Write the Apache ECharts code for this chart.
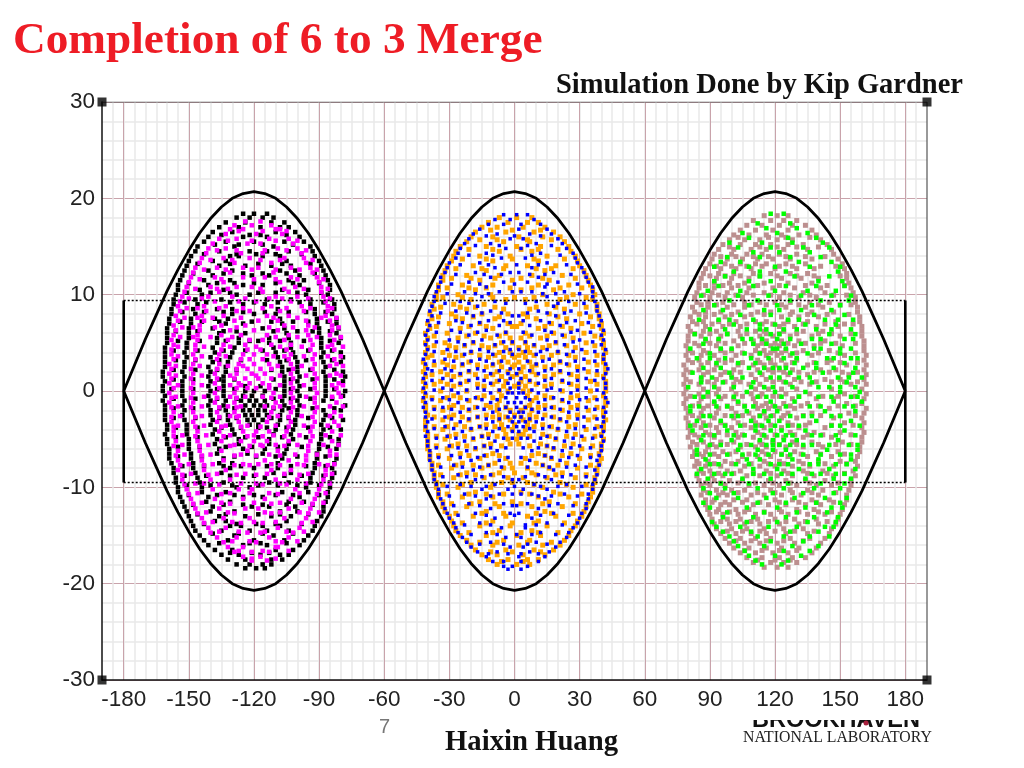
<!DOCTYPE html>
<html><head><meta charset="utf-8">
<style>html,body{margin:0;padding:0;background:#fff}#c{width:1024px;height:768px}</style>
<script src="https://cdn.jsdelivr.net/npm/echarts@6/dist/echarts.min.js"></script>
</head><body><div id="c"></div>
<script>
const xTicks=[-180,-150,-120,-90,-60,-30,0,30,60,90,120,150,180];
const yTicks=[-30,-20,-10,0,10,20,30];
const sepX=[-180,-175,-170,-165,-160,-155,-150,-145,-140,-135,-130,-125,-120,-115,-110,-105,-100,-95,-90,-85,-80,-75,-70,-65,-60,-55,-50,-45,-40,-35,-30,-25,-20,-15,-10,-5,0,5,10,15,20,25,30,35,40,45,50,55,60,65,70,75,80,85,90,95,100,105,110,115,120,125,130,135,140,145,150,155,160,165,170,175,180];
const sepUpper=[0,2.7,5.4,7.9,10.4,12.6,14.6,16.4,17.9,19.1,20,20.5,20.7,20.5,20,19.1,17.9,16.4,14.6,12.6,10.4,7.9,5.4,2.7,0,2.7,5.4,7.9,10.4,12.6,14.6,16.4,17.9,19.1,20,20.5,20.7,20.5,20,19.1,17.9,16.4,14.6,12.6,10.4,7.9,5.4,2.7,0,2.7,5.4,7.9,10.4,12.6,14.6,16.4,17.9,19.1,20,20.5,20.7,20.5,20,19.1,17.9,16.4,14.6,12.6,10.4,7.9,5.4,2.7,0];
const sepLower=[0,-2.7,-5.4,-7.9,-10.4,-12.6,-14.6,-16.4,-17.9,-19.1,-20,-20.5,-20.7,-20.5,-20,-19.1,-17.9,-16.4,-14.6,-12.6,-10.4,-7.9,-5.4,-2.7,0,-2.7,-5.4,-7.9,-10.4,-12.6,-14.6,-16.4,-17.9,-19.1,-20,-20.5,-20.7,-20.5,-20,-19.1,-17.9,-16.4,-14.6,-12.6,-10.4,-7.9,-5.4,-2.7,0,-2.7,-5.4,-7.9,-10.4,-12.6,-14.6,-16.4,-17.9,-19.1,-20,-20.5,-20.7,-20.5,-20,-19.1,-17.9,-16.4,-14.6,-12.6,-10.4,-7.9,-5.4,-2.7,0];
const bucketTop=[[-180,9.4],[180,9.4]];
const bucketBottom=[[-180,-9.5],[180,-9.5]];
const bucketLeft=[[-180,9.4],[-180,-9.5]];
const bucketRight=[[180,9.4],[180,-9.5]];
const corners=[[-190,30],[190,30],[-190,-30],[190,-30]];
// each row: y, then the x values read along that row
const blackRows=[
[18.4,-125,-120,-114],[18,-128,-122,-116,-111],[17.5,-133,-124,-112,-106],[17,-136,-127,-117,-108,-104],[16.5,-139,-130,-110,-101],[16,-141,-125,-114,-99],[15.5,-143,-133,-120,-106,-97],[15,-146,-129,-111,-94],[14.5,-147,-136,-122,-114,-104,-93],[14,-149,-131,-127,-116,-108,-92],[13.5,-150,-139,-133,-105,-90],[13,-151,-136,-124,-112,-103,-89],[12.5,-152,-141,-130,-108,-101,-88],[12,-153,-139,-121,-113,-99,-87],[11.5,-154,-143,-131,-104,-97,-86],[11,-155,-141,-125,-116,-99,-85],[10.5,-155,-145,-134,-107,-95,-85],[10,-156,-144,-128,-122,-96,-86],[9.5,-157,-147,-135,-114,-103,-94,-84],
[9,-157,-146,-125,-115,-94,-83],[8.5,-158,-148,-137,-130,-109,-92,-83],[8,-158,-147,-130,-120,-110,-92,-84],[7.5,-159,-149,-138,-132,-108,-91,-82],[7,-159,-149,-133,-125,-107,-91,-82],[6.5,-160,-150,-139,-116,-106,-90,-81],[6,-160,-150,-136,-124,-105,-90,-82],[5.5,-160,-150,-137,-127,-113,-104,-89,-80],[5,-160,-151,-137,-127,-113,-103,-89,-81],[4.5,-161,-151,-139,-129,-111,-103,-89],[4,-161,-152,-138,-130,-110,-102,-88,-80],[3.5,-161,-151,-140,-131,-109,-101,-89,-79],[3,-161,-152,-139,-132,-108,-100,-88,-80],[2.5,-161,-152,-141,-133,-107,-100,-87],[2,-162,-153,-140,-133,-107,-100,-88,-79],[1.5,-162,-152,-141,-134,-106,-99,-87,-78],[1,-161,-153,-140,-134,-106,-100,-87,-79],[.5,-162,-153,-141,-134,-124,-117,-106,-99,-87],[0,-162,-153,-140,-134,-124,-120,-115,-106,-100,-87,-78],
[-.5,-161,-153,-141,-134,-125,-121,-116,-106,-99,-87,-79],[-1,-162,-152,-140,-133,-126,-122,-119,-115,-107,-100,-88],[-1.5,-161,-153,-141,-134,-124,-120,-117,-114,-106,-99,-78],[-2,-161,-152,-140,-133,-125,-122,-118,-115,-107,-100,-88,-80],[-2.5,-161,-153,-140,-132,-124,-121,-118,-114,-108,-100,-87],[-3,-161,-152,-139,-132,-123,-120,-116,-108,-101,-88,-79],[-3.5,-160,-151,-140,-131,-122,-118,-109,-101,-89],[-4,-160,-151,-138,-130,-110,-102,-88,-80],[-4.5,-161,-151,-139,-129,-111,-103,-89],[-5,-160,-150,-137,-127,-113,-102,-89,-81],[-5.5,-160,-150,-138,-127,-113,-104,-90,-81],[-6,-159,-150,-136,-125,-115,-105,-90,-82],[-6.5,-159,-149,-137,-123,-116,-106,-91],[-7,-159,-149,-134,-107,-91,-82],[-7.5,-158,-148,-136,-130,-109,-92,-83],[-8,-157,-148,-131,-120,-109,-92,-84],[-8.5,-157,-147,-135,-111,-103,-93,-83],[-9,-156,-146,-125,-115,-94,-84],[-9.5,-156,-145,-134,-113,-104,-94,-85],
[-10,-155,-144,-128,-122,-96,-85],[-10.5,-155,-144,-133,-107,-95,-86],[-11,-154,-141,-125,-116,-99,-86],[-11.5,-153,-142,-131,-104,-97,-87],[-12,-152,-139,-121,-113,-101,-88],[-12.5,-151,-140,-129,-108,-100,-88],[-13,-150,-136,-124,-112,-103,-89],[-13.5,-149,-138,-133,-105,-91],[-14,-148,-131,-126,-116,-108,-92],[-14.5,-147,-135,-122,-114,-104,-93],[-15,-145,-129,-111,-95],[-15.5,-143,-132,-120,-106,-97],[-16,-141,-125,-114,-99],[-16.5,-138,-130,-110,-102],[-17,-135,-127,-117,-108,-104],[-17.5,-132,-124,-112,-107],[-18,-128,-122,-116,-112],[-18.4,-124,-119,-115]];
const blackFill=[
[16.2,-135,-122,-117,-105],[15.2,-138,-127,-116,-102],[14.2,-143,-128,-119,-110,-98],[13.2,-146,-131,-118,-107,-94],[12.2,-148,-134,-125,-116,-105,-92],[11.2,-150,-137,-129,-120,-110,-102,-90],[10.2,-151,-140,-131,-118,-110,-100,-89],[9.2,-152,-142,-131,-120,-109,-99,-88],[8.2,-153,-143,-134,-125,-115,-104,-96,-87],[7.2,-154,-144,-136,-121,-112,-102,-95,-86],[6.2,-156,-146,-134,-128,-111,-100,-93,-85],[5.2,-155,-145,-133,-122,-118,-108,-97,-85],[4.2,-157,-146,-134,-124,-116,-106,-95,-84],[3.2,-156,-147,-136,-126,-114,-105,-96,-84],[2.2,-157,-147,-137,-128,-112,-104,-94,-83],[1.2,-157,-148,-136,-129,-111,-103,-93,-83],[.2,-158,-148,-137,-129,-110,-103,-94,-83],
[-.8,-157,-147,-137,-128,-111,-103,-94,-84],[-1.8,-157,-148,-136,-129,-111,-104,-93,-83],[-2.8,-157,-147,-136,-128,-112,-104,-95,-84],[-3.8,-156,-146,-135,-126,-118,-114,-105,-95,-85],[-4.8,-156,-146,-133,-124,-118,-107,-96,-85],[-5.8,-155,-145,-133,-121,-109,-98,-86],[-6.8,-155,-144,-129,-119,-110,-100,-87],[-7.8,-153,-143,-134,-126,-114,-103,-96,-87],[-8.8,-152,-142,-131,-120,-106,-98,-88],[-9.8,-151,-140,-130,-118,-109,-100,-90],[-10.8,-150,-137,-129,-120,-110,-102,-90],[-11.8,-148,-134,-125,-116,-105,-93],[-12.8,-146,-133,-118,-108,-95],[-13.8,-143,-128,-119,-110,-98],[-14.8,-139,-127,-116,-102],[-15.8,-136,-122,-117,-105],[-16.8,-131,-121,-113]];
const magentaRows=[
[17.6,-124,-117],[17.2,-129,-121,-112],[16.8,-131,-125,-110,-108],[16.3,-133,-119,-107],[15.8,-136,-128,-113,-104],[15.3,-139,-123,-117,-102],[14.8,-141,-133,-109,-100],[14.3,-142,-126,-116,-98],[13.8,-144,-134,-122,-106,-97],[13.3,-145,-129,-112,-96],[12.8,-147,-137,-125,-118,-103,-94],[12.3,-148,-131,-111,-93],[11.8,-149,-138,-125,-115,-103,-91],[11.3,-150,-134,-108,-90],[10.8,-151,-140,-128,-121,-101,-89],[10.3,-152,-136,-116,-104,-89],[9.8,-153,-141,-130,-110,-100,-88],[9.3,-154,-138,-127,-119,-103,-87],[8.8,-155,-143,-133,-112,-98,-86],
[8.3,-154,-142,-128,-122,-108,-97,-86],[7.8,-156,-144,-134,-114,-104,-87],[7.3,-155,-143,-129,-118,-109,-96,-85],[6.8,-157,-145,-135,-124,-106,-95,-84],[6.3,-156,-145,-131,-120,-109,-96,-84],[5.8,-157,-146,-135,-126,-114,-104,-95,-85],[5.3,-158,-146,-132,-122,-116,-106,-94,-83],[4.8,-157,-147,-134,-124,-112,-103,-93,-84],[4.3,-158,-147,-135,-123,-117,-105,-94,-83],[3.8,-158,-148,-136,-125,-120,-114,-103,-92],[3.3,-157,-147,-137,-126,-122,-116,-104,-93,-83],[2.8,-159,-148,-136,-127,-120,-113,-103,-92,-82],[2.3,-158,-149,-137,-128,-123,-117,-112,-102,-93],[1.8,-159,-148,-138,-128,-121,-115,-103,-92,-82],[1.3,-158,-149,-137,-129,-124,-118,-112,-102,-91],[.8,-159,-148,-138,-127,-122,-116,-103,-92,-81],[.3,-157,-149,-136,-128,-123,-119,-113,-102,-92,-82],
[-.2,-159,-148,-138,-129,-111,-103,-91,-81],[-.7,-158,-149,-137,-128,-112,-102,-92],[-1.2,-159,-148,-138,-129,-110,-103,-92,-82],[-1.7,-158,-149,-136,-128,-111,-102,-91],[-2.2,-157,-148,-137,-129,-112,-103,-92,-83],[-2.7,-158,-147,-136,-128,-113,-104,-93],[-3.2,-158,-148,-137,-127,-114,-103,-92,-83],[-3.7,-157,-147,-135,-126,-117,-104,-93],[-4.2,-157,-146,-136,-125,-119,-113,-105,-94,-84],[-4.7,-157,-147,-134,-123,-116,-106,-93],[-5.2,-156,-146,-135,-126,-120,-114,-104,-94,-84],[-5.7,-157,-145,-131,-122,-116,-106,-95],[-6.2,-155,-145,-135,-123,-109,-95,-85],[-6.7,-156,-144,-129,-119,-108,-96,-85],[-7.2,-155,-144,-134,-115,-104,-96],[-7.7,-154,-143,-129,-122,-108,-97,-86],[-8.2,-155,-143,-133,-112,-103,-87],[-8.7,-153,-141,-128,-119,-99,-87],
[-9.2,-153,-140,-131,-110,-100,-88],[-9.7,-152,-136,-116,-105,-89],[-10.2,-151,-139,-127,-121,-101,-90],[-10.7,-150,-135,-109,-91],[-11.2,-149,-138,-125,-115,-103,-92],[-11.7,-148,-131,-112,-93],[-12.2,-147,-136,-124,-118,-104,-94],[-12.7,-146,-129,-112,-95],[-13.2,-144,-134,-122,-106,-96],[-13.7,-143,-126,-116,-98],[-14.2,-141,-133,-109,-99],[-14.7,-140,-123,-117,-102],[-15.2,-137,-128,-113,-104],[-15.7,-134,-119,-107],[-16.2,-132,-125,-110,-109],[-16.7,-129,-121,-113],[-17.2,-125,-117],[-17.6,-121,-114]];
const magentaFill=[
[16.6,-127,-116,-105],[15.6,-132,-121,-110,-100],[14.6,-137,-128,-115,-105,-96],[13.6,-140,-130,-117,-108,-93],[12.6,-143,-133,-121,-110,-99,-91],[11.6,-145,-135,-120,-110,-100,-88],[10.6,-147,-137,-132,-117,-106,-97,-86],[9.6,-150,-144,-124,-113,-107,-95,-85],[8.6,-151,-146,-136,-125,-116,-105,-94,-84],[7.6,-152,-146,-139,-126,-111,-100,-89,-82],[6.6,-153,-148,-138,-128,-113,-102,-92,-81],[5.6,-154,-148,-140,-130,-110,-100,-91,-80],[4.6,-155,-143,-131,-119,-108,-98,-86,-79],[3.6,-155,-144,-133,-111,-106,-97,-86,-80],[2.6,-156,-145,-132,-125,-109,-98,-85,-79],[1.6,-156,-144,-131,-119,-108,-96,-85,-80],[.6,-155,-144,-131,-126,-113,-108,-97,-84,-79],
[-.6,-156,-143,-131,-124,-116,-108,-96,-84,-80],[-1.6,-155,-144,-132,-126,-115,-108,-97,-85,-79],[-2.6,-154,-144,-131,-127,-109,-98,-85,-80],[-3.6,-155,-143,-133,-123,-110,-97,-86,-81],[-4.6,-153,-142,-131,-120,-111,-99,-87,-80],[-5.6,-153,-141,-129,-117,-110,-100,-88,-81],[-6.6,-152,-140,-126,-113,-101,-91,-82],[-7.6,-150,-139,-125,-118,-112,-100,-90,-83],[-8.6,-149,-137,-124,-114,-106,-95,-84],[-9.6,-147,-143,-126,-119,-108,-96,-85],[-10.6,-146,-131,-122,-113,-99,-87],[-11.6,-144,-135,-120,-108,-98,-88],[-12.6,-142,-132,-115,-108,-99,-90],[-13.6,-139,-130,-120,-110,-93],[-14.6,-136,-127,-115,-105,-97],[-15.6,-130,-122,-110,-100],[-16.6,-127,-116,-104],[-17.4,-121,-110]];
const orangeRows=[
[18,-7,1,8],[17.5,-12,-3,6,11],[17,-15,-8,4,14],[16.5,-18,-4,9,18],[16,-20,-10,2,13,21],[15.5,-22,-5,7,23],[15,-25,-13,1,12,25],[14.5,-27,-7,8,26],[14,-28,-16,-2,15,28],[13.5,-29,-10,11,29],[13,-31,-19,-4,6,19,30],[12.5,-32,-13,14,32],[12,-33,-22,-7,8,22,33],[11.5,-33,-16,-1,16,34],[11,-35,-24,-10,11,25,35],[10.5,-35,-18,3,18,36],[10,-36,-26,-11,13,27,37],[9.5,-36,-20,-4,5,21,36],[9,-38,-28,-14,15,28,38],[8.5,-37,-22,-5,7,23,38],
[8,-39,-29,-15,-3,4,16,30,39],[7.5,-38,-24,-9,10,24,39],[7,-40,-30,-16,-3,3,17,31,40],[6.5,-39,-25,-10,11,26,40],[6,-41,-31,-18,-4,5,18,32,41],[5.5,-40,-26,-11,-2,3,12,27,40],[5,-41,-32,-19,-6,-1,5,19,33,41],[4.5,-40,-27,-12,-4,2,6,13,28,41],[4,-41,-33,-20,-7,-2,4,7,20,33,42],[3.5,-40,-27,-12,-5,0,5,13,28,41],[3,-42,-33,-21,-7,-3,2,7,21,34,41],[2.5,-41,-28,-13,-6,-1,4,8,14,29,42],[2,-42,-34,-21,-8,-3,3,8,21,34,42],[1.5,-41,-28,-13,-6,-1,5,14,29,41],[1,-42,-34,-22,-8,-4,3,7,22,35,42],[.5,-41,-28,-14,-5,0,5,14,29,42],[0,-42,-34,-22,-7,-3,4,7,22,35,42],
[-.5,-41,-28,-14,-6,6,14,29,41],[-1,-42,-34,-21,-7,8,22,34,42],[-1.5,-41,-28,-13,-8,7,14,29,42],[-2,-41,-33,-21,-8,-2,3,8,22,34,41],[-2.5,-40,-28,-13,-7,0,7,14,29,41],[-3,-41,-33,-21,-7,-2,4,7,21,34,42],[-3.5,-41,-27,-13,-6,0,6,13,28,41],[-4,-41,-33,-20,-5,-1,5,20,33,41],[-4.5,-40,-27,-12,-4,2,4,13,28,40],[-5,-40,-32,-19,-3,1,19,32,41],[-5.5,-40,-26,-11,-2,2,12,27,40],[-6,-40,-31,-18,18,31,40],[-6.5,-39,-25,-10,11,26,39],[-7,-39,-30,-16,-4,5,17,30,40],[-7.5,-38,-24,-9,-2,3,10,24,39],[-8,-38,-29,-15,-5,-1,6,16,29,38],[-8.5,-37,-22,-7,0,8,22,38],[-9,-37,-28,-14,-3,4,15,28,37],[-9.5,-36,-20,-6,-1,6,21,37],[-10,-36,-26,-11,13,27,36],
[-10.5,-35,-18,3,18,36],[-11,-35,-24,-10,11,25,35],[-11.5,-33,-16,-1,16,34],[-12,-33,-22,-7,8,22,33],[-12.5,-32,-13,14,32],[-13,-30,-19,-4,6,19,31],[-13.5,-29,-10,11,29],[-14,-28,-16,-2,15,28],[-14.5,-27,-7,8,26],[-15,-25,-13,1,12,25],[-15.5,-22,-5,7,23],[-16,-20,-10,2,13,21],[-16.5,-18,-4,9,18],[-17,-15,-8,4,14],[-17.5,-12,-3,6,11],[-18,-8,1,7]];
const orangeFill=[
[16.7,-11,-1,12],[15.7,-16,-8,6,17],[14.7,-21,-10,3,11,20],[13.7,-24,-13,-1,9,23],[12.7,-27,-15,-5,10,17,27],[11.7,-29,-20,-9,3,13,28],[10.7,-31,-21,-13,-2,8,21,31],[9.7,-33,-24,-10,0,9,24,33],[8.7,-34,-25,-18,-9,10,19,33],[7.7,-35,-27,-19,-7,6,20,35],[6.7,-36,-21,-13,-1,1,14,22,36],[5.7,-37,-22,-14,-7,7,15,23,37],[4.7,-37,-30,-23,-15,-9,9,16,24,37],[3.7,-38,-30,-24,-16,-9,-1,2,9,17,25,38],[2.7,-37,-31,-24,-17,-10,0,10,18,25,38],[1.7,-38,-31,-25,-18,-10,1,10,18,26,38],[.7,-37,-31,-25,-17,-10,2,10,17,26,38],
[-.7,-38,-31,-25,-17,-10,10,17,26,37],[-1.7,-37,-30,-24,-18,-11,-4,5,11,18,26,38],[-2.7,-37,-30,-24,-17,-10,-4,3,10,18,25,37],[-3.7,-37,-31,-23,-16,-9,9,17,25,38],[-4.7,-36,-30,-23,-15,-8,7,16,24,37],[-5.7,-36,-29,-22,-14,-6,7,15,23,36],[-6.7,-35,-21,-13,-7,8,14,22,35],[-7.7,-35,-27,-19,-12,13,20,35],[-8.7,-34,-25,-18,-10,10,19,33],[-9.7,-33,-24,-10,9,24,33],[-10.7,-31,-21,-13,-5,7,21,31],[-11.7,-29,-20,-9,3,13,28],[-12.7,-27,-15,-5,10,17,27],[-13.7,-24,-13,-1,9,23],[-14.7,-21,-10,3,11,20],[-15.7,-16,-8,6,17],[-16.7,-11,-1,12],[-17.7,-6,4]];
const blueRows=[
[18.3,-5,1,6],[17.8,-9,-2,9],[17.3,-12,-5,3,12],[16.8,-16,2,15],[16.3,-19,-8,7,17],[15.8,-21,-2,4,20],[15.3,-23,-11,10,22],[14.8,-25,-4,3,24],[14.3,-26,-13,12,27],[13.8,-27,-6,5,28],[13.3,-30,-16,15,29],[12.8,-31,-9,8,31],[12.3,-32,-18,-2,2,18,32],[11.8,-34,-11,11,33],[11.3,-34,-21,-5,6,20,34],[10.8,-35,-13,14,36],[10.3,-36,-23,-7,-1,3,8,23,36],[9.8,-37,-15,15,36],[9.3,-37,-25,-9,10,25,37],[8.8,-38,-17,18,38],
[8.3,-39,-27,-11,11,26,38],[7.8,-38,-19,-1,2,19,39],[7.3,-40,-27,-12,-5,4,12,28,40],[6.8,-39,-20,-7,7,21,39],[6.3,-40,-29,-13,14,29,41],[5.8,-41,-21,-8,8,22,40],[5.3,-40,-30,-15,15,30,41],[4.8,-41,-23,-9,9,23,40],[4.3,-40,-31,-16,-2,2,15,31,42],[3.8,-41,-23,-10,-1,10,24,41],[3.3,-42,-32,-16,16,32,41],[2.8,-41,-24,-10,10,24,42],[2.3,-40,-32,-17,-2,2,17,32,43],[1.8,-41,-25,-11,-3,1,11,25,42],[1.3,-42,-33,-17,-2,3,17,33,41],[.8,-41,-25,-11,-3,2,11,25,42],[.3,-42,-33,-17,-2,2,17,33,42],
[-.2,-41,-26,-11,-3,-1,2,4,11,26,41],[-.7,-42,-33,-18,-4,1,5,18,33,42],[-1.2,-41,-26,-11,-3,0,3,11,25,43],[-1.7,-42,-33,-17,-4,1,5,17,33,41],[-2.2,-41,-25,-10,-2,2,4,11,25,42],[-2.7,-41,-32,-17,-3,0,3,17,32,41],[-3.2,-40,-25,-10,-1,2,5,10,24,41],[-3.7,-41,-32,-16,-3,1,4,16,32,40],[-4.2,-40,-24,-10,-1,2,9,24,41],[-4.7,-41,-31,-15,15,31,40],[-5.2,-40,-23,-9,9,23,41],[-5.7,-40,-30,-14,15,30,40],[-6.2,-39,-22,-8,8,22,40],[-6.7,-39,-29,-14,14,29,39],[-7.2,-39,-20,-7,7,21,38],[-7.7,-38,-28,-12,13,28,39],[-8.2,-38,-19,18,37],[-8.7,-37,-26,-11,11,26,38],[-9.2,-37,-18,-1,2,17,37],[-9.7,-36,-25,-9,9,24,36],
[-10.2,-35,-15,-3,4,15,36],[-10.7,-35,-23,-7,-1,3,8,23,34],[-11.2,-34,-13,14,34],[-11.7,-33,-21,-5,6,20,33],[-12.2,-32,-11,11,33],[-12.7,-31,-18,-2,2,18,31],[-13.2,-30,-9,8,30],[-13.7,-28,-16,15,29],[-14.2,-27,-6,5,27],[-14.7,-26,-13,12,25],[-15.2,-24,-4,3,24],[-15.7,-22,-11,10,21],[-16.2,-20,-2,4,19],[-16.7,-17,-8,7,16],[-17.2,-13,2,14],[-17.7,-10,-5,3,11],[-18.2,-5,-1,6],[-18.5,-3,3]];
const blueFill=[
[16.1,-13,0,12],[15.1,-18,-7,6,17],[14.1,-21,-10,8,21],[13.1,-25,-12,1,11,24],[12.1,-27,-14,-6,7,14,26],[11.1,-29,-16,0,15,29],[10.1,-31,-18,-12,13,19,30],[9.1,-32,-21,-4,5,20,32],[8.1,-34,-22,-15,-6,6,15,23,33],[7.1,-35,-24,-16,-2,16,24,34],[6.1,-36,-25,-17,-4,4,17,26,35],[5.1,-36,-26,-19,-5,-1,5,19,27,36],[4.1,-37,-27,-20,-12,-5,5,12,20,27,37],[3.1,-37,-28,-20,-13,-6,6,13,21,28,37],[2.1,-38,-29,-21,-14,-7,7,14,21,29,38],[1.1,-38,-29,-21,-14,-7,7,14,22,29,37],[.1,-37,-29,-22,-14,-7,8,15,21,29,38],
[-.9,-38,-30,-22,-15,-8,7,14,22,30,38],[-1.9,-37,-29,-21,-14,-7,8,14,21,29,37],[-2.9,-38,-29,-21,-13,-7,7,13,21,29,38],[-3.9,-37,-28,-20,-13,-7,7,13,20,28,37],[-4.9,-36,-27,-19,-12,-5,-1,3,6,12,19,27,36],[-5.9,-36,-26,-18,-11,-4,4,11,18,26,35],[-6.9,-35,-25,-17,-3,3,17,25,35],[-7.9,-34,-24,-16,-6,6,16,24,33],[-8.9,-33,-22,-15,-5,5,14,22,33],[-9.9,-31,-20,-13,0,12,20,31],[-10.9,-30,-18,-11,11,17,29],[-11.9,-28,-16,-1,1,16,27],[-12.9,-26,-13,0,12,25],[-13.9,-23,-11,5,10,22],[-14.9,-20,-8,1,8,19],[-15.9,-16,-5,6,15],[-16.9,-12,-3,3,11]];
const brownRows=[
[18.2,115,121,126],[17.7,110,118,124,130],[17.2,107,114,122,128,134],[16.7,104,111,119,126,137],[16.2,101,108,116,123,131,139],[15.7,99,106,113,121,128,141],[15.2,96,104,111,118,126,133,144],[14.7,94,101,109,116,124,135,146],[14.2,92,100,107,114,122,130,147],[13.7,91,98,105,112,119,127,137,149],[13.2,90,97,104,111,116,125,134,151],[12.7,88,95,102,109,120,130,138,152],[12.2,87,94,101,110,118,127,135,153],[11.7,86,93,100,108,123,132,140,153],[11.2,85,92,99,106,115,126,137,154],[10.7,85,92,100,108,119,129,141,155],[10.2,84,91,98,107,115,124,133,143,156],[9.7,83,90,97,105,122,131,139,157],[9.2,84,89,96,106,113,120,127,136,145,157],[8.7,82,89,98,106,125,134,142,158],[8.2,83,88,95,103,112,118,128,137,147,158],
[7.7,81,88,97,106,123,131,140,159],[7.2,82,87,94,102,111,116,126,135,148,159],[6.7,80,88,96,104,122,129,139,149,160],[6.2,81,87,93,103,111,115,124,133,142,160],[5.7,80,86,95,104,113,119,127,137,150,160],[5.2,80,88,94,101,110,116,123,131,143,161],[4.7,79,85,93,103,112,118,122,129,138,151,161],[4.2,80,87,95,100,111,115,120,125,133,145,161],[3.7,79,86,92,102,109,116,121,127,137,152,162],[3.2,80,85,94,100,112,118,123,130,146,161],[2.7,78,86,93,103,110,115,120,125,135,153,162],[2.2,79,85,92,101,112,117,122,128,141,148,161],[1.7,78,87,95,100,109,114,126,135,154,162],[1.2,79,86,93,102,111,116,122,129,143,150,161],[.7,78,85,92,101,108,113,127,136,155,162],[.2,79,87,94,100,111,117,123,130,146,160],
[-.3,78,85,93,102,109,114,125,136,152,162],[-.8,79,86,95,101,110,128,139,147,161],[-1.3,78,85,92,103,111,116,124,135,153,160],[-1.8,79,87,94,100,112,117,122,129,145,162],[-2.3,80,86,93,102,108,115,126,137,154,161],[-2.8,79,85,92,101,110,116,123,130,147,160],[-3.3,80,87,95,103,111,126,136,152,161],[-3.8,80,86,93,100,109,115,123,131,143,160],[-4.3,81,88,94,102,112,127,138,150,161],[-4.8,80,85,92,103,110,116,124,133,146,160],[-5.3,82,87,95,101,113,119,128,137,151,160],[-5.8,81,89,93,104,111,116,125,133,142,159],[-6.3,83,88,96,102,114,120,129,139,149,159],[-6.8,82,87,94,105,112,118,126,135,146,158],[-7.3,84,89,97,103,115,122,131,140,150,157],[-7.8,83,88,95,106,113,120,128,136,147,158],[-8.3,85,90,98,104,116,124,133,142,156],[-8.8,84,91,96,107,113,121,128,138,147,157],[-9.3,85,92,99,105,117,125,134,143,155],
[-9.8,86,90,97,108,115,122,130,139,146,155],[-10.3,87,93,100,106,118,127,135,142,154],[-10.8,86,94,98,109,115,123,132,140,153],[-11.3,88,92,101,107,120,128,137,145,153],[-11.8,88,95,99,110,117,125,134,141,152],[-12.3,89,94,102,108,122,130,138,151],[-12.8,90,96,103,111,118,126,135,143,150],[-13.3,91,98,104,112,120,129,139,149],[-13.8,92,99,106,113,122,131,140,148],[-14.3,93,100,107,115,124,133,146],[-14.8,95,102,109,116,125,135,145],[-15.3,97,104,111,118,127,136,143],[-15.8,99,106,113,121,129,141],[-16.3,101,108,116,123,131,139],[-16.8,104,111,119,126,137],[-17.3,107,114,122,128,134],[-17.8,110,118,124,130],[-18.3,115,121,126]];
const brownFill=[
[15.95,103,117,125,136],[14.95,99,113,121,130,140],[13.95,95,102,110,117,125,134,143],[12.95,93,100,107,114,122,128,141,148],[11.95,90,97,104,113,121,130,138,150],[10.95,88,96,103,112,122,134,144,152],[9.95,87,94,102,110,118,127,136,147,153],[8.95,86,93,101,109,116,123,131,140,150,155],[7.95,85,92,100,109,115,127,135,144,154],[6.95,84,91,99,107,114,119,124,133,143,152,156],[5.95,83,90,98,107,116,122,130,140,146,155],[4.95,83,90,97,106,114,120,126,134,141,148,157],[3.95,82,89,97,105,113,118,123,130,140,149,157],[2.95,82,89,97,105,113,118,128,138,144,150,158],[1.95,81,89,97,104,119,124,131,138,145,151,158],[.95,81,89,97,104,119,124,132,139,146,152,158],
[-.55,81,89,97,105,113,119,122,131,142,149,157],[-1.55,82,89,98,106,114,119,127,132,140,149,157],[-2.55,82,90,97,105,113,119,124,133,141,150,157],[-3.55,83,90,97,106,113,118,128,134,146,156],[-4.55,83,90,98,105,114,120,129,135,142,155],[-5.55,84,91,98,107,114,122,130,140,148,155],[-6.55,85,92,99,108,116,123,132,141,152],[-7.55,85,92,100,109,117,124,133,143,153],[-8.55,87,94,101,110,118,126,135,144,152],[-9.55,88,95,103,111,119,127,136,149],[-10.55,89,96,103,112,120,128,137,148],[-11.55,91,97,105,113,122,131,139,147],[-12.55,93,99,106,115,123,131,140,146],[-13.55,95,102,109,117,125,134,144],[-14.55,98,105,113,120,129,138],[-15.55,102,109,116,124,133],[-16.55,106,114,122,130],[-17.55,112,120,127]];
const greenRows=[
[18.4,118,124],[17.4,112,127],[16.4,105,121,135],[15.4,99,114,128,142],[14.4,110,122,136],[13.4,95,104,131,146],[12.4,101,113,125,149],[11.4,92,108,118,140,151],[10.4,89,104,120,135,148],[9.4,99,112,127,141,154],[8.4,87,96,115,122,132,146],[7.9,104,118,138,152],[7.4,85,94,126,143,156],[6.9,101,113,120,134,148],[6.4,90,107,116,124,139,155],[5.9,83,98,118,122,145,157],[5.4,94,105,114,127,137,152],[4.9,87,110,116,124,132,146],[4.4,81,100,119,121,141,155],[3.9,90,106,113,128,135,150],[3.4,84,97,117,124,144,158],[2.9,93,103,111,129,139,152],[2.4,87,108,119,122,133,147],[1.9,82,99,113,127,142,156],[1.4,91,105,118,131,149,160],[.9,86,96,110,125,137,153],
[.4,80,101,115,128,145,157],[-.1,89,107,120,134,150,159],[-.6,83,94,112,123,140,155],[-1.1,92,103,118,129,147,160],[-1.6,85,98,110,125,136,152],[-2.1,81,107,115,121,143,157],[-2.6,90,100,113,127,133,150],[-3.1,84,95,109,117,122,139,155],[-3.6,88,104,114,120,126,146,159],[-4.1,82,98,111,118,123,134,152],[-4.6,92,106,115,121,128,141,157],[-5.1,86,100,113,119,124,130,149],[-5.6,95,109,116,122,127,137,154],[-6.1,84,103,112,119,125,144,158],[-6.6,90,98,117,123,133,150],[-7.1,88,107,113,128,140,155],[-7.6,94,102,118,126,136,148],[-8.1,86,110,121,131,145,157],[-8.6,92,100,115,128,141,152],[-9.1,89,105,118,134,147,155],[-10.1,87,97,112,124,138,150],[-11.1,93,103,116,129,143,153],[-12.1,90,107,121,134,146,151],[-13.1,96,110,125,138,149],[-14.1,93,104,117,130,143,147],[-15.1,99,112,124,136,145],[-16.1,103,115,128,140],[-17.1,108,120,132],[-18,114,123]];
const greenFill=[
[16.9,116,130],[15.9,108,126,139],[14.9,103,118,133,145],[13.9,98,113,127,141],[12.9,92,108,120,136,150],[11.9,97,113,129,145],[10.9,94,110,125,139,152],[9.9,86,103,117,132,146,155],[8.9,92,108,121,137,150],[7.4,99,110,131,149],[6.4,97,113,130,146],[5.4,88,109,121,141,156],[4.4,95,125,138,150],[3.4,90,109,130,147,155],[2.4,95,115,125,139,157],[1.4,86,100,122,136,154],
[.4,92,109,119,140,150],[-.6,87,101,116,131,146,158],[-1.6,81,93,106,120,141,156],[-2.6,87,103,118,137,146],[-3.6,81,97,111,131,150],[-4.6,87,101,125,137,148],[-5.6,90,104,119,133,145,158],[-6.6,84,105,111,127,141,155],[-7.6,90,108,122,140,153],[-8.6,84,97,110,123,137,148],[-9.6,95,108,126,141,152],[-10.6,90,101,119,133,147],[-11.6,87,112,125,139,150],[-12.6,98,115,130,144],[-13.6,91,107,121,135,148],[-14.6,96,109,127,140],[-15.6,101,118,133],[-16.6,106,124,136],[-17.6,111,126]];
function rowsToPoints(rows,more){const out=[];for(const r of rows.concat(more)){for(let i=1;i<r.length;i++)out.push([r[i],r[0]]);}return out;}
const minorX=[];for(let v=-185;v<=185;v+=5)minorX.push(v);
const chart=echarts.init(document.getElementById('c'),null,{renderer:'canvas'});
const dots=(name,rows,more,color,size)=>({name,type:'scatter',data:rowsToPoints(rows,more),symbol:'rect',symbolSize:size,itemStyle:{color,opacity:1},large:false,silent:true,z:3,animation:false});
const lineS=(name,data,style)=>({name,type:'line',data,symbol:'none',silent:true,lineStyle:style,z:5,animation:false});
const serif='"Liberation Serif",serif',sans='"Liberation Sans",Arial,sans-serif';
const txt=(x,y,text,font,fill)=>({type:'text',x,y,z:20,style:{text,font,fill,verticalAlign:'middle',align:'left'}});
const zipXY=(xs,ys)=>xs.map((x,i)=>[x,ys[i]]);
chart.setOption({
 animation:false,backgroundColor:'#fff',
 grid:{left:102,top:102,width:825,height:578,containLabel:false},
 xAxis:[
  {type:'value',min:-190,max:190,axisLine:{show:true,onZero:false,lineStyle:{color:'#111',width:1.5}},axisTick:{show:false,customValues:xTicks},
   axisLabel:{customValues:xTicks,color:'#222',fontFamily:sans,fontSize:22.5,margin:8,hideOverlap:false},
   splitLine:{show:true,lineStyle:{color:'#c9a3ab',width:1}},z:2},
  {type:'value',min:-190,max:190,position:'bottom',axisLine:{show:false},axisTick:{show:false,customValues:minorX},axisLabel:{show:false},
   splitLine:{show:true,lineStyle:{color:'#e9e9e9',width:1.5}},z:1}],
 yAxis:{type:'value',min:-30,max:30,interval:10,axisLine:{show:true,onZero:false,lineStyle:{color:'#111',width:1.5}},axisTick:{show:false},
   axisLabel:{color:'#222',fontFamily:sans,fontSize:22.5,margin:7},
   splitLine:{show:true,lineStyle:{color:'#c9a3ab',width:1}},
   minorTick:{show:false,splitNumber:5},minorSplitLine:{show:true,lineStyle:{color:'#e9e9e9',width:1.5}}},
 series:[
  dots('black',blackRows,blackFill,'#000',4.5),dots('magenta',magentaRows,magentaFill,'#ff00ff',4.5),
  dots('orange',orangeRows,orangeFill,'#ffa500',5),dots('blue',blueRows,blueFill,'#0000ff',3.5),
  dots('rosybrown',brownRows,brownFill,'#bc8f8f',5),dots('green',greenRows,greenFill,'#00ff00',4.5),
  lineS('separatrix upper',zipXY(sepX,sepUpper),{color:'#000',width:2.8}),
  lineS('separatrix lower',zipXY(sepX,sepLower),{color:'#000',width:2.8}),
  lineS('bucket top',bucketTop,{color:'#000',width:1.6,type:[2,2]}),
  lineS('bucket bottom',bucketBottom,{color:'#000',width:1.6,type:[2,2]}),
  lineS('bucket left',bucketLeft,{color:'#000',width:2.6}),
  lineS('bucket right',bucketRight,{color:'#000',width:2.6}),
  {name:'corners',type:'scatter',data:corners,symbol:'rect',symbolSize:9,itemStyle:{color:'#000'},clip:false,silent:true,z:6,animation:false},
  {name:'top border',type:'line',data:[[-190,30],[190,30]],symbol:'none',lineStyle:{color:'#555',width:1.2},z:4,silent:true},
  {name:'right border',type:'line',data:[[190,30],[190,-30]],symbol:'none',lineStyle:{color:'#555',width:1.2},z:4,silent:true}
 ],
 graphic:[
  txt(13,41,'Completion of 6 to 3 Merge','bold 45.3px '+serif,'#ee1c25'),
  txt(556,86,'Simulation Done by Kip Gardner','bold 28.5px '+serif,'#111'),
  txt(445,743,'Haixin Huang','bold 28.7px '+serif,'#111'),
  txt(379,727,'7','20px '+sans,'#777'),
  txt(752,721,'BROOKHAVEN','bold 23.5px '+sans,'#111'),
  {type:'rect',z:21,shape:{x:745,y:708,width:185,height:12},style:{fill:'#fff'}},
  {type:'circle',z:22,shape:{cx:866,cy:723,r:2.5},style:{fill:'#a8203c'}},
  txt(743,738,'NATIONAL LABORATORY','15.8px '+serif,'#222')
 ]
});
</script></body></html>
